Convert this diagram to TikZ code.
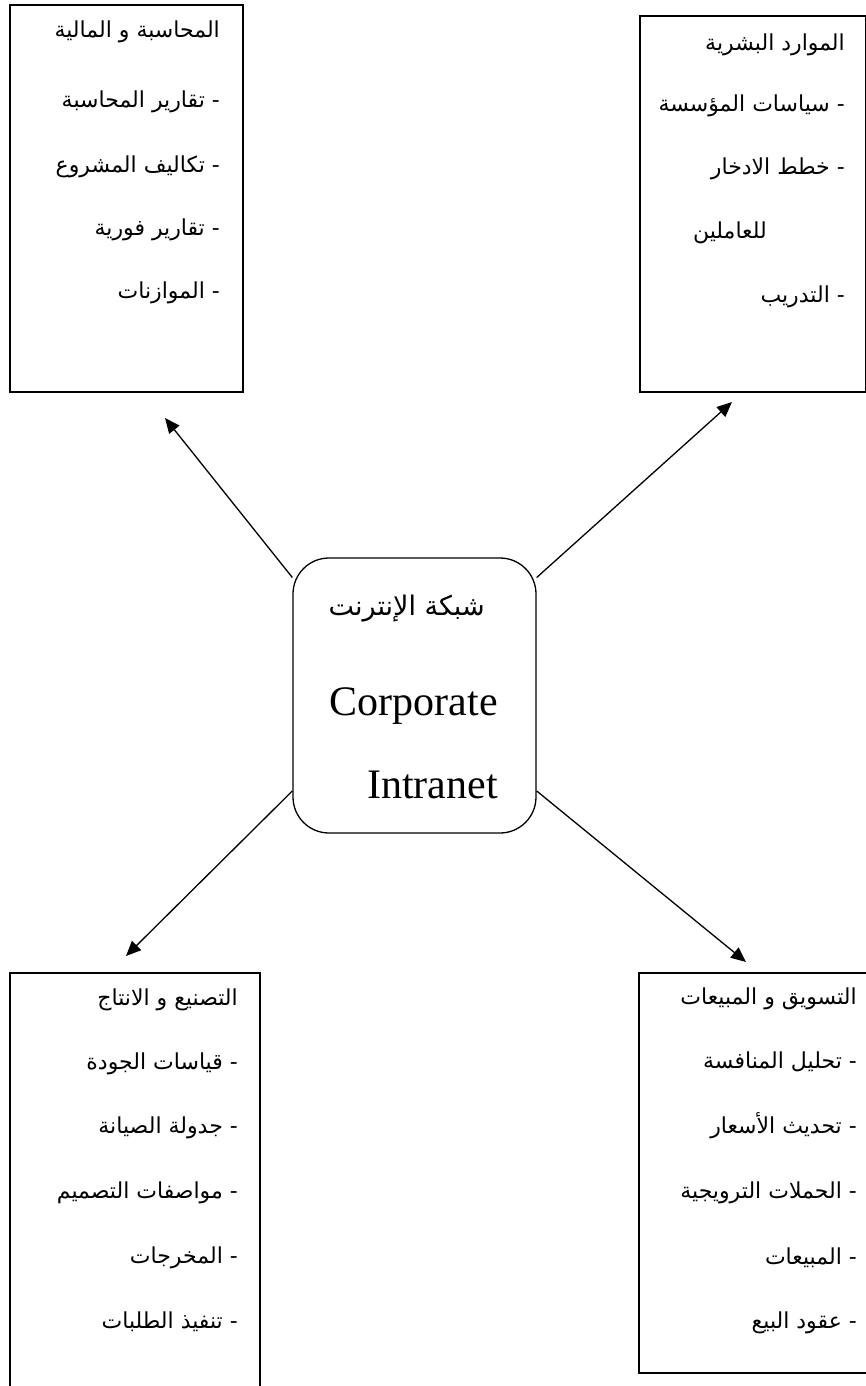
\documentclass[tikz,border=0pt]{standalone}
\usepackage{fontspec}
\setmainfont{Liberation Serif}
\newfontfamily\arabicfont[Script=Arabic]{DejaVu Sans}
\TeXXeTstate=1
\usetikzlibrary{arrows.meta}

\tikzset{
  panel/.style={draw, line width=1.8pt, anchor=north west, inner sep=0pt},
  hub/.style={draw, line width=1.3pt, rounded corners=36pt, inner sep=0pt,
              minimum width=243pt, minimum height=275pt},
  item/.style={anchor=base east, inner sep=0pt,
               font=\arabicfont\fontsize{22}{26}\selectfont},
  hubar/.style={anchor=base east, inner sep=0pt,
               font=\arabicfont\fontsize{27}{31}\selectfont},
  hubla/.style={anchor=base east, inner sep=0pt,
               font=\fontsize{42}{48}\selectfont},
  link/.style={line width=1.3pt, -{Triangle[length=15pt,width=13pt]}},
}

\begin{document}
\begin{tikzpicture}[x=1pt,y=-1pt]
\useasboundingbox (0,0) rectangle (866,1386);
\clip (0,0) rectangle (866,1386);

% department panels
\node[panel, minimum width=233pt, minimum height=387pt] (tl) at (9,4) {};
\node[panel, minimum width=226pt, minimum height=376pt] (tr) at (639,15) {};
\node[panel, minimum width=250pt, minimum height=450pt] (bl) at (9,972) {};
\node[panel, minimum width=250pt, minimum height=400pt] (br) at (638,972) {};

% accounting and finance
\node[item] (tl0) at (220,38)  {\beginR المحاسبة و المالية\endR};
\node[item] (tl1) at (220,108) {\beginR - تقارير المحاسبة\endR};
\node[item] (tl2) at (220,172) {\beginR - تكاليف المشروع\endR};
\node[item] (tl3) at (220,235) {\beginR - تقارير فورية\endR};
\node[item] (tl4) at (220,298) {\beginR - الموازنات\endR};

% human resources
\node[item] (tr0) at (845,51)  {\beginR الموارد البشرية\endR};
\node[item] (tr1) at (845,112) {\beginR - سياسات المؤسسة\endR};
\node[item] (tr2) at (845,174) {\beginR - خطط الادخار\endR};
\node[item] (tr3) at (767,238) {\beginR للعاملين\endR};
\node[item] (tr4) at (845,302) {\beginR - التدريب\endR};

% manufacturing and production
\node[item] (bl0) at (238,1005) {\beginR التصنيع و الانتاج\endR};
\node[item] (bl1) at (238,1069) {\beginR - قياسات الجودة\endR};
\node[item] (bl2) at (238,1133) {\beginR - جدولة الصيانة\endR};
\node[item] (bl3) at (238,1198) {\beginR - مواصفات التصميم\endR};
\node[item] (bl4) at (238,1263) {\beginR - المخرجات\endR};
\node[item] (bl5) at (238,1328) {\beginR - تنفيذ الطلبات\endR};

% marketing and sales
\node[item] (br0) at (857,1004) {\beginR التسويق و المبيعات\endR};
\node[item] (br1) at (857,1068) {\beginR - تحليل المنافسة\endR};
\node[item] (br2) at (857,1133) {\beginR - تحديث الأسعار\endR};
\node[item] (br3) at (857,1198) {\beginR - الحملات الترويجية\endR};
\node[item] (br4) at (857,1264) {\beginR - المبيعات\endR};
\node[item] (br5) at (857,1328) {\beginR - عقود البيع\endR};

% central hub
\node[hub] (c) at (414.5,695.5) {};
\node[hubar] (c1) at (485,615) {\beginR شبكة الإنترنت\endR};
\node[hubla] (c2) at (498,715) {Corporate};
\node[hubla] (c3) at (498,798) {Intranet};

% connectors
\coordinate (tltip) at (165,418);
\coordinate (trtip) at (732,402);
\coordinate (bltip) at (126,956);
\coordinate (brtip) at (746,962);
\draw[link] (c.136) -- (tltip);
\draw[link] (c.44)  -- (trtip);
\draw[link] (c.218) -- (bltip);
\draw[link] (c.-38) -- (brtip);
\end{tikzpicture}
\end{document}
